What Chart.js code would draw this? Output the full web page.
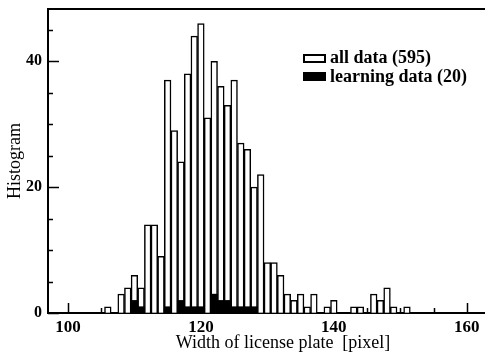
<!DOCTYPE html>
<html>
<head>
<meta charset="utf-8">
<script src="https://cdn.jsdelivr.net/npm/chart.js@4/dist/chart.umd.min.js"></script>
<style>
  html, body { margin: 0; padding: 0; background: #fff; overflow: hidden; }
  canvas { display: block; }
</style>
</head>
<body>
<canvas id="chart" width="518" height="355"></canvas>
<script>
// plate widths in pixel (one bin per pixel)
const widths = [106, 107, 108, 109, 110, 111, 112, 113, 114, 115,
  116, 117, 118, 119, 120, 121, 122, 123, 124, 125,
  126, 127, 128, 129, 130, 131, 132, 133, 134, 135,
  136, 137, 138, 139, 140, 141, 142, 143, 144, 145,
  146, 147, 148, 149, 150, 151];
const allData = [1, 0, 3, 4, 6, 4, 14, 14, 9, 37,
  29, 24, 38, 44, 46, 31, 40, 36, 33, 37,
  27, 26, 20, 22, 8, 8, 6, 3, 2, 3,
  1, 3, 0, 1, 2, 0, 0, 1, 1, 0,
  3, 2, 4, 1, 0, 1];
const learningData = [0, 0, 0, 0, 2, 1, 0, 0, 0, 1,
  0, 2, 1, 1, 1, 0, 3, 2, 2, 1,
  1, 1, 1, 0, 0, 0, 0, 0, 0, 0,
  0, 0, 0, 0, 0, 0, 0, 0, 0, 0,
  0, 0, 0, 0, 0, 0];
const seriesLabels = ["all data (595)", "learning data (20)"];

const xTicks = [100, 120, 140, 160];
const xMinorTicks = [105, 110, 115, 125, 130, 135, 145, 150, 155, 165];
const yTicks = [0, 20, 40];
const yMinorTicks = [5, 10, 15, 25, 30, 35, 45];

const serif = "'Liberation Serif', 'DejaVu Serif', serif";

// ticks point into the plot, drawn under the bars
const inwardTicks = {
  id: "inwardTicks",
  beforeDatasetsDraw(chart) {
    const { ctx, chartArea: a, scales } = chart;
    ctx.save();
    ctx.strokeStyle = "#000";
    ctx.lineWidth = 1.5;
    ctx.beginPath();
    const xTick = (v, len) => {
      const px = Math.round(scales.x.getPixelForValue(v)) + 0.5;
      ctx.moveTo(px, a.bottom);
      ctx.lineTo(px, a.bottom - len);
    };
    const yTick = (v, len) => {
      const py = Math.round(scales.y.getPixelForValue(v)) + 0.5;
      ctx.moveTo(a.left, py);
      ctx.lineTo(a.left + len, py);
    };
    xTicks.forEach(v => xTick(v, 10));
    xMinorTicks.forEach(v => xTick(v, 5));
    yTicks.forEach(v => yTick(v, 11));
    yMinorTicks.forEach(v => yTick(v, 5));
    ctx.stroke();
    // top frame line
    ctx.lineWidth = 2;
    ctx.beginPath();
    ctx.moveTo(a.left - 1, a.top);
    ctx.lineTo(a.right, a.top);
    ctx.stroke();
    ctx.restore();
  }
};

const boxLegend = {
  id: "boxLegend",
  afterDraw(chart) {
    const ctx = chart.ctx;
    ctx.save();
    ctx.font = "bold 18px " + serif;
    ctx.textBaseline = "middle";
    ctx.lineWidth = 2;
    ctx.strokeStyle = "#000";
    ctx.fillStyle = "#fff";
    ctx.fillRect(304, 55, 21, 7);
    ctx.strokeRect(304, 55, 21, 7);
    ctx.fillStyle = "#000";
    ctx.fillRect(303, 72, 23, 9);
    ctx.fillText(chart.data.datasets[0].label, 330, 58);
    ctx.fillText(chart.data.datasets[1].label, 330, 77);
    ctx.restore();
  }
};

new Chart(document.getElementById("chart"), {
  type: "bar",
  data: {
    datasets: [
      {
        label: seriesLabels[0],
        data: widths.map((w, i) => ({ x: w, y: allData[i] })),
        backgroundColor: "#fff",
        borderColor: "#000",
        borderWidth: 1.5,
        order: 2
      },
      {
        label: seriesLabels[1],
        data: widths.map((w, i) => ({ x: w, y: learningData[i] })),
        backgroundColor: "#000",
        borderWidth: 0,
        order: 1
      }
    ]
  },
  options: {
    responsive: false,
    animation: false,
    devicePixelRatio: 1,
    grouped: false,
    barPercentage: 1,
    categoryPercentage: 1,
    layout: { padding: { top: 9, right: 0, bottom: 0, left: 0 } },
    plugins: {
      legend: { display: false },
      tooltip: { enabled: false }
    },
    scales: {
      x: {
        type: "linear",
        offset: false,
        min: 97,
        max: 167.7,
        afterBuildTicks: s => { s.ticks = xTicks.map(v => ({ value: v })); },
        afterFit: s => { s.height = 42; s.paddingLeft = 0; s.paddingRight = 0; },
        grid: { display: false, drawTicks: false, offset: false },
        border: { display: true, color: "#000", width: 2 },
        ticks: {
          color: "#000",
          font: { family: serif, size: 17, weight: "bold" },
          padding: 4,
          maxRotation: 0
        },
        title: {
          display: true,
          text: "Width of license plate  [pixel]",
          color: "#000",
          font: { family: serif, size: 18 },
          padding: { top: 0, bottom: 1 }
        }
      },
      y: {
        min: 0,
        max: 48.3,
        afterBuildTicks: s => { s.ticks = yTicks.map(v => ({ value: v })); },
        afterFit: s => { s.width = 48; s.paddingTop = 0; s.paddingBottom = 0; },
        grid: { display: false, drawTicks: false },
        border: { display: true, color: "#000", width: 2 },
        ticks: {
          color: "#000",
          font: { family: serif, size: 16, weight: "bold" },
          padding: 6
        },
        title: {
          display: true,
          text: "Histogram",
          color: "#000",
          font: { family: serif, size: 18 },
          padding: { top: 4, bottom: 0 }
        }
      }
    }
  },
  plugins: [inwardTicks, boxLegend]
});
</script>
</body>
</html>
